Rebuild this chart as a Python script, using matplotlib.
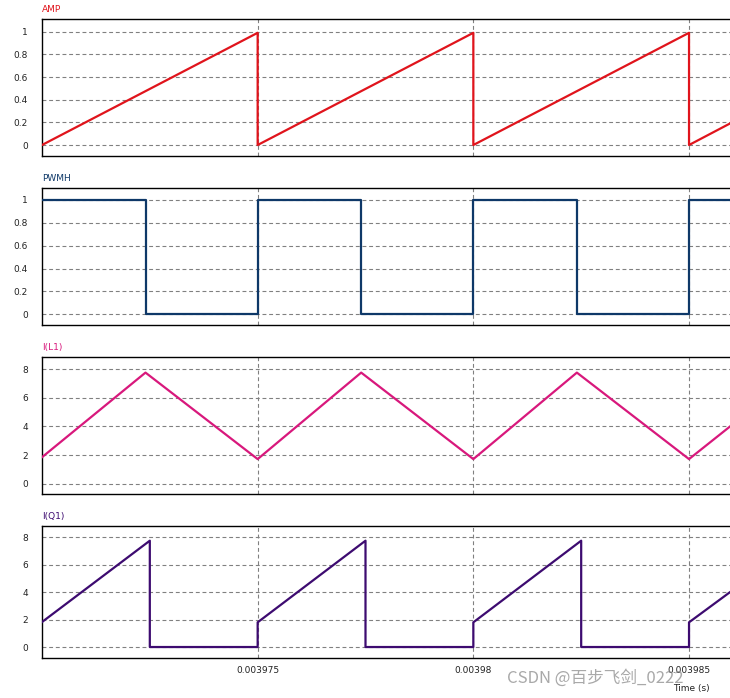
"""
PSIM-style buck converter waveforms: AMP ramp, PWMH gate, I(L1), I(Q1).
Four stacked panels sharing the time axis.
"""
import matplotlib
matplotlib.use('Agg')
import matplotlib.pyplot as plt

# ---- data (breakpoints) ----
T_AMP = [0.00397, 0.003975, 0.003975, 0.00398, 0.00398, 0.003985, 0.003985,
         0.00398595]
AMP = [0.0, 0.99, 0.0, 0.99, 0.0, 0.99, 0.0, 0.19]

T_PWM = [0.00397, 0.0039724, 0.0039724, 0.003975, 0.003975, 0.0039774,
         0.0039774, 0.00398, 0.00398, 0.0039824, 0.0039824, 0.003985,
         0.003985, 0.00398595]
PWMH = [1, 1, 0, 0, 1, 1, 0, 0, 1, 1, 0, 0, 1, 1]

T_IL1 = [0.00397, 0.0039724, 0.003975, 0.0039774, 0.00398, 0.0039824,
         0.003985, 0.00398595]
I_L1 = [1.85, 7.77, 1.72, 7.77, 1.72, 7.77, 1.72, 4.0]

T_IQ1 = [0.00397, 0.0039725, 0.0039725, 0.003975, 0.003975, 0.0039775,
         0.0039775, 0.00398, 0.00398, 0.0039825, 0.0039825, 0.003985,
         0.003985, 0.00398595]
I_Q1 = [1.82, 7.75, 0, 0, 1.8, 7.75, 0, 0, 1.8, 7.75, 0, 0, 1.8, 4.0]

X_TICKS = [0.003975, 0.00398, 0.003985]
X_TICKLABELS = ['0.003975', '0.00398', '0.003985']
X_LIM = (0.00397, 0.00398595)

# (label, t, y, colour, yticks, yticklabels, ylim, [left, bottom, width, height])
PANELS = [
    ('AMP', T_AMP, AMP, '#e0141c', [0, 0.2, 0.4, 0.6, 0.8, 1],
     ['0', '0.2', '0.4', '0.6', '0.8', '1'], (-0.097, 1.112),
     [0.0575, 0.7765, 0.9425, 0.1963]),
    ('PWMH', T_PWM, PWMH, '#0e3868', [0, 0.2, 0.4, 0.6, 0.8, 1],
     ['0', '0.2', '0.4', '0.6', '0.8', '1'], (-0.094, 1.102),
     [0.0575, 0.5344, 0.9425, 0.1958]),
    ('I(L1)', T_IL1, I_L1, '#d8187c', [0, 2, 4, 6, 8],
     ['0', '2', '4', '6', '8'], (-0.72, 8.84),
     [0.0575, 0.2923, 0.9425, 0.1958]),
    ('I(Q1)', T_IQ1, I_Q1, '#3d0b70', [0, 2, 4, 6, 8],
     ['0', '2', '4', '6', '8'], (-0.78, 8.82),
     [0.0575, 0.0577, 0.9425, 0.1887]),
]

fig = plt.figure(figsize=(7.30, 6.98), dpi=100)

for i, (name, t, y, col, yt, ytl, ylim, rect) in enumerate(PANELS):
    ax = fig.add_axes(rect)
    ax.plot(t, y, color=col, lw=1.6, zorder=3)
    ax.set_xlim(*X_LIM)
    ax.set_ylim(*ylim)
    ax.set_yticks(yt)
    ax.set_yticklabels(ytl)
    ax.set_xticks(X_TICKS)
    if i == len(PANELS) - 1:
        ax.set_xticklabels(X_TICKLABELS)
    else:
        ax.set_xticklabels([])
    ax.tick_params(length=0, labelsize=6.5, colors='#222222')
    ax.tick_params(axis='y', pad=10)
    ax.tick_params(axis='x', pad=6)
    ax.grid(True, color='#808080', ls=(0, (3.5, 2.5)), lw=0.8)
    for s in ('left', 'top', 'bottom'):
        ax.spines[s].set_color('black')
        ax.spines[s].set_linewidth(1.0)
    ax.spines['right'].set_visible(False)
    # trace name above the frame
    top = rect[1] + rect[3]
    fig.text(0.0575, top + 0.007, name, color=col, fontsize=6.5,
             ha='left', va='bottom')

fig.text(0.947, 0.013, 'Time (s)', fontsize=6.5, color='#222222',
         ha='center', va='center')
fig.text(0.695, 0.028, 'CSDN @百步飞剑_0222', fontsize=12, color='#8c8c8c',
         alpha=0.75, ha='left', va='center', zorder=10,
         family=['Noto Sans CJK SC', 'DejaVu Sans'])

fig.savefig('out.png', dpi=100)
